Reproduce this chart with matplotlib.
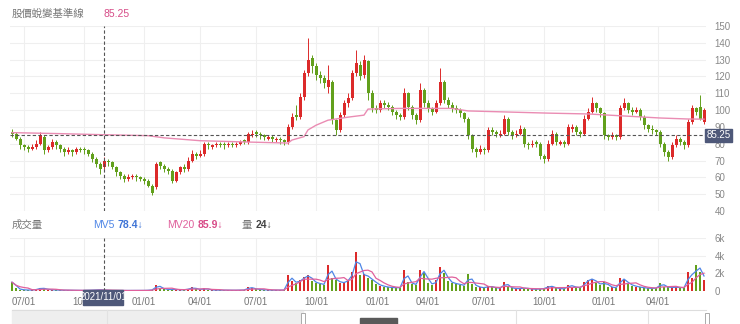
import matplotlib.pyplot as plt
import matplotlib.patches as mpatches
import pandas as pd

plt.rcParams['font.family'] = ['Liberation Sans', 'Noto Sans CJK TC', 'DejaVu Sans']

# candles (each one ~4 trading days)
o = [87, 86, 83, 79, 78, 77, 78, 80, 84, 76, 78, 81,
     79, 77, 75, 76, 75, 77, 77, 76, 74, 71, 68, 66,
     70, 69, 66, 63, 61, 59, 60, 61, 60, 59, 58, 55,
     54, 69, 67, 65, 64, 58, 63, 66, 65, 70, 74, 73,
     74, 80, 78, 79, 80, 80, 79, 80, 79, 80, 82, 81,
     85, 87, 86, 85, 83, 84, 82, 83, 82, 81, 90, 97,
     96, 108, 122, 131, 126, 121, 119, 114, 117, 94, 88, 97,
     104, 107, 122, 127, 121, 129, 110, 101, 100, 104, 103, 102,
     99, 97, 96, 110, 102, 97, 94, 112, 104, 101, 99, 104,
     117, 106, 103, 101, 100, 98, 95, 85, 77, 75, 77, 76,
     88, 87, 85, 86, 95, 87, 85, 86, 89, 80, 79, 81,
     80, 73, 71, 80, 86, 80, 81, 80, 89, 90, 87, 86,
     95, 99, 104, 101, 98, 85, 84, 85, 84, 101, 104, 100,
     99, 100, 96, 91, 89, 88, 87, 80, 75, 72, 79, 83,
     81, 79, 93, 101, 102, 93]
c = [86, 83, 79, 78, 77, 78, 80, 85, 76, 78, 81, 79,
     77, 75, 76, 75, 77, 76, 76, 74, 71, 68, 65, 70,
     69, 66, 63, 61, 59, 60, 61, 60, 59, 58, 55, 51,
     68, 67, 65, 64, 58, 63, 66, 65, 70, 74, 73, 74,
     80, 79, 79, 80, 79, 79, 80, 79, 80, 81, 81, 86,
     86, 86, 85, 84, 84, 83, 83, 82, 81, 90, 96, 96,
     108, 122, 130, 126, 121, 119, 116, 118, 94, 88, 97, 104,
     107, 122, 128, 120, 130, 110, 101, 100, 104, 103, 102, 99,
     97, 96, 110, 102, 97, 94, 112, 104, 101, 99, 104, 117,
     106, 103, 101, 100, 98, 95, 85, 77, 75, 77, 76, 88,
     87, 86, 86, 95, 87, 85, 86, 89, 80, 79, 80, 80,
     73, 71, 80, 86, 81, 81, 80, 90, 90, 87, 86, 95,
     99, 104, 101, 98, 85, 84, 85, 84, 101, 104, 100, 99,
     100, 96, 91, 89, 88, 87, 80, 75, 72, 79, 83, 81,
     79, 93, 101, 99, 95, 100]
h = [89, 87, 84, 80, 79, 80, 82, 87, 85, 79, 83, 82,
     80, 78, 78, 77, 78, 78, 78, 77, 75, 72, 69, 72,
     71, 70, 67, 64, 62, 62, 62, 62, 61, 60, 59, 56,
     69, 70, 68, 66, 65, 64, 67, 68, 72, 76, 75, 76,
     81, 81, 80, 81, 81, 81, 81, 81, 81, 82, 83, 87,
     88, 88, 87, 86, 85, 85, 84, 84, 83, 92, 98, 103,
     110, 124, 143, 133, 128, 123, 121, 127, 118, 95, 99, 106,
     110, 124, 136, 129, 133, 130, 112, 103, 106, 106, 105, 103,
     100, 98, 113, 111, 103, 98, 116, 113, 106, 102, 106, 125,
     118, 108, 105, 103, 101, 99, 96, 86, 78, 79, 78, 90,
     90, 88, 88, 97, 96, 88, 88, 91, 90, 81, 82, 82,
     81, 74, 82, 88, 87, 82, 82, 92, 92, 91, 88, 97,
     101, 108, 105, 102, 99, 86, 87, 86, 103, 107, 105, 102,
     102, 101, 97, 92, 91, 89, 88, 81, 76, 81, 85, 84,
     82, 95, 103, 102, 109, 101]
l = [84, 82, 77, 76, 75, 76, 77, 79, 74, 75, 77, 77,
     75, 73, 74, 73, 74, 75, 74, 73, 69, 66, 62, 65,
     67, 65, 61, 59, 57, 58, 59, 58, 58, 56, 54, 49.5,
     53, 65, 63, 62, 56.5, 57, 62, 63, 64, 69, 71, 72,
     73, 77, 77, 78, 78, 77, 78, 78, 78, 79, 80, 80,
     84, 84, 83, 82, 82, 81, 81, 80, 79.5, 80, 89, 94,
     95, 106, 120, 122, 118, 116, 113, 110, 92, 85, 87, 96,
     102, 106, 120, 118, 119, 106, 99, 98, 99, 101, 100, 97,
     95, 94, 95, 100, 95, 92, 93, 102, 99, 97, 98, 103,
     104, 101, 99, 98, 96, 93, 83, 75, 72, 74, 74, 75,
     85, 84, 84, 85, 85, 83, 84, 85, 78, 77, 78, 78,
     71, 68.5, 70, 79, 79, 79, 78, 79, 87, 85, 84, 85,
     94, 98, 99, 96, 83, 82, 83, 82, 83, 100, 98, 97,
     98, 94, 89, 87, 86, 85, 78, 73, 70, 71, 78, 79,
     77, 78, 92, 97, 94, 92]
vol = [1000, 300, 150, 120, 100, 120, 200, 350, 250, 150, 120, 100,
       90, 80, 90, 80, 70, 60, 70, 80, 100, 120, 150, 90,
       60, 50, 60, 70, 60, 50, 50, 60, 60, 70, 90, 150,
       700, 350, 200, 150, 200, 150, 120, 150, 250, 400, 200, 150,
       300, 150, 100, 100, 90, 80, 90, 80, 90, 100, 120, 450,
       300, 200, 150, 120, 100, 90, 100, 90, 120, 1800,
       1100, 900, 1300, 1600, 1800, 1100, 900, 800, 700, 3000,
       1500, 1200, 900, 1000, 1300, 2200, 4400, 1800, 1900, 1500,
       1200, 800, 600, 500, 400, 400, 350, 400, 2400, 1000,
       800, 700, 2400, 2000, 900, 700, 1200, 2700, 2000, 1100,
       900, 800, 700, 600, 1900, 800, 500, 400, 350, 600,
       400, 350, 300, 1000, 450, 300, 250, 300, 350, 250,
       200, 200, 250, 300, 600, 450, 300, 250, 250, 700,
       500, 400, 350, 1000, 1300, 1400, 900, 700, 1000, 500,
       400, 350, 1500, 1200, 800, 600, 500, 400, 350, 300,
       300, 350, 900, 500, 400, 400, 450, 350, 400, 2200,
       1500, 3000, 2200, 1200]

# long moving average line (sampled at candle indexes)
ma_idx = [0, 12, 22, 34, 38, 47, 59, 69, 70, 73, 74, 76, 79, 84, 88, 89,
          97, 110, 114, 134, 144, 153, 162, 169, 173]
ma_val = [86.6, 86.0, 85.4, 84.8, 83.5, 81.8, 81.0, 80.4, 82.2, 84.2, 88.2,
          91.0, 94.0, 95.8, 97.0, 100.6, 101.0, 101.0, 99.5, 98.2, 97.7,
          96.5, 95.3, 94.7, 94.6]

# candle index where each quarter starts
quarter_idx = [3, 18, 33, 47, 61, 76, 91.5, 104, 118, 133, 148, 161.5]
quarter_lab = ['07/01', '10/01', '01/01', '04/01', '07/01', '10/01',
               '01/01', '04/01', '07/01', '10/01', '01/01', '04/01']

base = 85.25
cross_idx = 23
cross_date = '2021/11/01'
mv5_now, mv20_now, vol_now = 78.4, 85.9, 24

RED = '#dc2a2a'
GREEN = '#62a01c'
GRID = '#efefef'
W, H = 740, 324

fig = plt.figure(figsize=(W / 100, H / 100), dpi=100)


def box(x0, y0, x1, y1):
    return [x0 / W, 1 - y1 / H, (x1 - x0) / W, (y1 - y0) / H]


def fx(px):
    return px / W


def fy(py):
    return 1 - py / H


ax = fig.add_axes(box(10, 26, 706, 211))
vax = fig.add_axes(box(10, 238, 706, 291), sharex=ax)

x = list(range(len(c)))
col = [RED if ci >= oi else GREEN for oi, ci in zip(o, c)]

# price panel
ax.vlines(x, l, h, colors=col, lw=0.7, zorder=3)
ax.bar(x, [max(abs(ci - oi), 0.5) for oi, ci in zip(o, c)],
       bottom=[min(oi, ci) for oi, ci in zip(o, c)],
       width=0.75, color=col, linewidth=0, zorder=3)
ax.plot(ma_idx, ma_val, color='#ea8cb3', lw=1, zorder=4)
ax.axhline(base, color='#555555', lw=0.8, ls=(0, (3, 2)), zorder=5)
ax.axvline(cross_idx, color='#555555', lw=0.8, ls=(0, (3, 2)), zorder=5)
ax.set_ylim(40, 150)
ax.set_xlim(-0.5, len(c) - 0.5)
ax.set_yticks(range(40, 151, 10))
ax.yaxis.tick_right()
ax.tick_params(axis='y', length=0, pad=6, labelsize=7, labelcolor='#888888')
ax.tick_params(axis='x', length=0, labelbottom=False)
ax.set_xticks(quarter_idx)
ax.grid(color=GRID, lw=0.8, zorder=0)
for s in ax.spines.values():
    s.set_visible(False)

# volume panel
mv5 = pd.Series(vol).rolling(2, min_periods=1).mean()
mv20 = pd.Series(vol).rolling(5, min_periods=1).mean()
vax.bar(x, vol, width=0.5, color=col, linewidth=0, zorder=3)
vax.plot(x, mv5, color='#4f86e6', lw=0.9, zorder=4)
vax.plot(x, mv20, color='#e0609c', lw=0.9, zorder=4)
vax.axvline(cross_idx, color='#555555', lw=0.8, ls=(0, (3, 2)), zorder=5)
vax.set_ylim(0, 6000)
vax.set_yticks([0, 2000, 4000, 6000])
vax.set_yticklabels(['0', '2k', '4k', '6k'])
vax.yaxis.tick_right()
vax.tick_params(axis='y', length=0, pad=6, labelsize=7, labelcolor='#888888')
vax.set_xticks(quarter_idx)
vax.set_xticklabels(quarter_lab)
vax.tick_params(axis='x', length=0, pad=4, labelsize=7, labelcolor='#777777')
vax.grid(color=GRID, lw=0.8, zorder=0)
for s in vax.spines.values():
    s.set_visible(False)


def follow(prev, text, color):
    # bold value right after its label
    ax.annotate(text, xy=(1, 0.5), xycoords=prev, xytext=(2.5, 0),
                textcoords='offset points', va='center', ha='left',
                color=color, fontsize=7.5, weight='bold', annotation_clip=False)


# header texts
fig.text(fx(12), fy(14), '股價蛻變基準線', color='#777777', fontsize=7.5, va='center')
fig.text(fx(103), fy(14), f'{base:.2f}', color='#d64b87', fontsize=7.5, va='center')
fig.text(fx(12), fy(225), '成交量', color='#777777', fontsize=7.5, va='center')
t1 = fig.text(fx(93), fy(225), 'MV5', color='#4f86e6', fontsize=7.5, va='center')
follow(t1, f'{mv5_now}↓', '#3f74d6')
t2 = fig.text(fx(167), fy(225), 'MV20', color='#e0609c', fontsize=7.5, va='center')
follow(t2, f'{mv20_now}↓', '#d84b88')
t3 = fig.text(fx(242), fy(225), '量', color='#777777', fontsize=7.5, va='center')
follow(t3, f'{vol_now}↓', '#444444')

# crosshair labels (they cover the axis labels, as in the original)
LBL = '#4e5879'
fig.patches.append(mpatches.Rectangle((fx(83), fy(305)), fx(40), 15 / H,
                                      transform=fig.transFigure, color=LBL, zorder=10))
fig.text(fx(103), fy(297.5), cross_date, color='white', fontsize=7,
         ha='center', va='center', zorder=11)
fig.patches.append(mpatches.Rectangle((fx(705), fy(141.5)), fx(27), 13 / H,
                                      transform=fig.transFigure, color=LBL, zorder=10))
fig.text(fx(718.5), fy(135), f'{base:.2f}', color='white', fontsize=7,
         ha='center', va='center', zorder=11)

# navigator strip at the bottom
fig.patches.append(mpatches.Rectangle((fx(12), 0), fx(291), 14 / H,
                                      transform=fig.transFigure, color='#eeeeee', zorder=1))
fig.add_artist(plt.Line2D([fx(12), fx(706)], [fy(310), fy(310)], color='#dddddd', lw=0.8))
for px in [107, 516, 648]:
    fig.add_artist(plt.Line2D([fx(px), fx(px)], [0, fy(310)], color='#e2e2e2', lw=0.8))
for px in [301, 705]:
    fig.patches.append(mpatches.Rectangle((fx(px), 0), fx(4), 11 / H,
                                          transform=fig.transFigure, facecolor='white',
                                          edgecolor='#aaaaaa', lw=0.7, zorder=3))
fig.patches.append(mpatches.Rectangle((fx(360), 0), fx(37), 6 / H,
                                      transform=fig.transFigure, color='#5a5a5a', zorder=3))

plt.savefig('out.png', dpi=100)
